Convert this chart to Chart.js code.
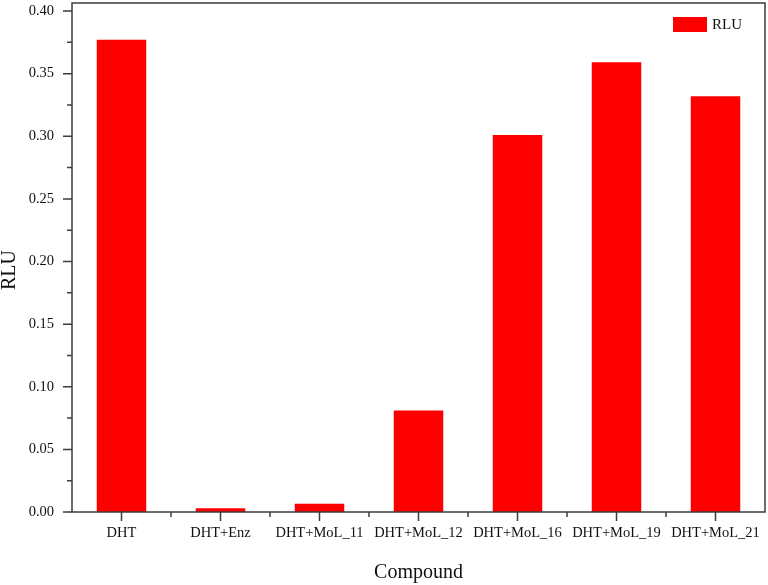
<!DOCTYPE html>
<html>
<head>
<meta charset="utf-8">
<script src="https://cdn.jsdelivr.net/npm/chart.js@4/dist/chart.umd.min.js"></script>
<style>
  html, body { margin: 0; padding: 0; background: #fff; }
  #wrap { width: 768px; height: 585px; position: relative; }
</style>
</head>
<body>
<div id="wrap"><canvas id="c"></canvas></div>
<script>
let compounds = ["DHT", "DHT+Enz", "DHT+MoL_11", "DHT+MoL_12", "DHT+MoL_16", "DHT+MoL_19", "DHT+MoL_21"];
let rlu = [0.377, 0.003, 0.0065, 0.081, 0.301, 0.359, 0.332];
let yTicks = [0, 0.05, 0.10, 0.15, 0.20, 0.25, 0.30, 0.35, 0.40];
let yTitle = "RLU";

const axisColor = "#3c3c3c";
const serif = "'Liberation Serif', 'Times New Roman', serif";

// frame, ticks (major + minor), y title and the small legend box
const frameTicks = {
  id: 'frameTicks',
  afterDraw(chart) {
    let ctx = chart.ctx;
    let a = chart.chartArea;
    let x = chart.scales.x, y = chart.scales.y;
    ctx.save();
    ctx.strokeStyle = axisColor;
    ctx.lineWidth = 1.5;
    ctx.strokeRect(a.left, a.top, a.right - a.left, a.bottom - a.top);
    ctx.beginPath();
    // y ticks
    for (let i = 0; i < yTicks.length; i++) {
      let py = y.getPixelForValue(yTicks[i]);
      ctx.moveTo(a.left - 9, py); ctx.lineTo(a.left, py);
      if (i < yTicks.length - 1) {
        let pm = y.getPixelForValue((yTicks[i] + yTicks[i + 1]) / 2);
        ctx.moveTo(a.left - 5, pm); ctx.lineTo(a.left, pm);
      }
    }
    // x ticks: major at centres, minor at boundaries
    for (let i = 0; i < compounds.length; i++) {
      let px = x.getPixelForValue(i);
      ctx.moveTo(px, a.bottom); ctx.lineTo(px, a.bottom + 9);
      if (i > 0) {
        let pb = (x.getPixelForValue(i - 1) + px) / 2;
        ctx.moveTo(pb, a.bottom); ctx.lineTo(pb, a.bottom + 5);
      }
    }
    ctx.stroke();

    // y title, sits a bit below the plot centre like the original
    ctx.save();
    ctx.translate(10, 270);
    ctx.rotate(-Math.PI / 2);
    ctx.fillStyle = "#111";
    ctx.font = "20px " + serif;
    ctx.textAlign = "center";
    ctx.textBaseline = "middle";
    ctx.fillText(yTitle, 0, 0);
    ctx.restore();

    // legend
    let ds = chart.data.datasets[0];
    ctx.fillStyle = ds.backgroundColor;
    ctx.fillRect(a.right - 92, a.top + 14, 34, 15);
    ctx.fillStyle = "#111";
    ctx.font = "15px " + serif;
    ctx.textBaseline = "middle";
    ctx.fillText(ds.label, a.right - 53, a.top + 22);
    ctx.restore();
  }
};

new Chart(document.getElementById('c'), {
  type: 'bar',
  data: {
    labels: compounds,
    datasets: [{
      label: 'RLU',
      data: rlu,
      backgroundColor: '#ff0000',
      borderWidth: 0,
      barPercentage: 0.5,
      categoryPercentage: 1.0,
    }],
  },
  options: {
    responsive: true,
    maintainAspectRatio: false,
    animation: false,
    layout: { padding: { top: 3, right: 3, left: 0, bottom: 0 } },
    plugins: { legend: { display: false }, tooltip: { enabled: false } },
    scales: {
      x: {
        grid: { display: false, drawTicks: false },
        border: { display: false },
        ticks: { color: '#111', font: { family: serif, size: 14.5 }, padding: 12, maxRotation: 0, autoSkip: false },
        title: { display: true, text: 'Compound', color: '#111', font: { family: serif, size: 20 }, padding: { top: 0, bottom: 0 } },
        afterFit(scale) {
          scale.height = 73;
          scale.paddingLeft = 0; scale.paddingRight = 0;
        },
      },
      y: {
        min: 0,
        max: 0.4064,
        grid: { display: false, drawTicks: false },
        border: { display: false },
        afterBuildTicks(scale) { scale.ticks = yTicks.map(v => ({ value: v })); },
        ticks: {
          color: '#111', font: { family: serif, size: 14.5 }, padding: 18,
          callback: v => v.toFixed(2),
        },
        title: { display: false },
        afterFit(scale) {
          scale.width = 72;
          scale.paddingTop = 0; scale.paddingBottom = 0;
        },
      },
    },
  },
  plugins: [frameTicks],
});
</script>
</body>
</html>
